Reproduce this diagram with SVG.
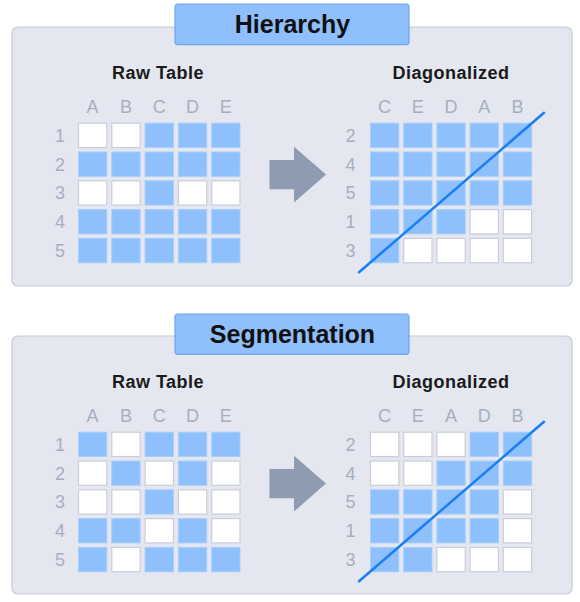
<svg xmlns="http://www.w3.org/2000/svg" width="580" height="602" viewBox="0 0 580 602">
<style>
.panel{fill:#e4e7ef;stroke:#c4cad7;stroke-width:1.2}
.tbox{fill:#8fbffc;stroke:#6ea5ee;stroke-width:1.2}
.ttl{font-family:"Liberation Sans",Arial,sans-serif;font-weight:bold;font-size:25px;fill:#111;text-anchor:middle}
.sub{font-family:"Liberation Sans",Arial,sans-serif;font-weight:bold;font-size:18px;letter-spacing:0.5px;fill:#1a1a1a;text-anchor:middle}
.lbl{font-family:"Liberation Sans",Arial,sans-serif;font-size:18px;fill:#a6afc1;text-anchor:middle}
.b{fill:#8fc0fe;stroke:#a6cdfb;stroke-width:1}
.w{fill:#ffffff;stroke:#c9ced9;stroke-width:1.2}
.arrow{fill:#8e9bb0}
.diag{stroke:#1a7ef5;stroke-width:2.5;stroke-linecap:round;fill:none}
</style>
<defs>
<g id="wc"><rect class="w" x="0.5" y="0.5" width="28.3" height="24.3"/></g>
<g id="bc"><rect class="b" x="0.5" y="0.5" width="28.3" height="24.3"/></g>
</defs>

<g id="hierarchy">
<rect class="panel" x="12" y="27" width="560" height="259" rx="6"/>
<g id="hierarchy-title">
<rect class="tbox" x="175" y="4" width="234" height="40.7" rx="3"/>
<text class="ttl" x="292.5" y="33">Hierarchy</text>
</g>
<g id="hierarchy-raw">
<text class="sub" x="158" y="79">Raw Table</text>
<text class="lbl" x="92.6" y="112.7">A</text><text class="lbl" x="125.9" y="112.7">B</text><text class="lbl" x="159.2" y="112.7">C</text><text class="lbl" x="192.5" y="112.7">D</text><text class="lbl" x="225.8" y="112.7">E</text>
<text class="lbl" x="60" y="141.8">1</text><text class="lbl" x="60" y="170.6">2</text><text class="lbl" x="60" y="199.4">3</text><text class="lbl" x="60" y="228.2">4</text><text class="lbl" x="60" y="257">5</text>
<use href="#wc" x="78" y="122.7"/><use href="#wc" x="111.3" y="122.7"/><use href="#bc" x="144.6" y="122.7"/><use href="#bc" x="177.9" y="122.7"/><use href="#bc" x="211.2" y="122.7"/>
<use href="#bc" x="78" y="151.5"/><use href="#bc" x="111.3" y="151.5"/><use href="#bc" x="144.6" y="151.5"/><use href="#bc" x="177.9" y="151.5"/><use href="#bc" x="211.2" y="151.5"/>
<use href="#wc" x="78" y="180.3"/><use href="#wc" x="111.3" y="180.3"/><use href="#bc" x="144.6" y="180.3"/><use href="#wc" x="177.9" y="180.3"/><use href="#wc" x="211.2" y="180.3"/>
<use href="#bc" x="78" y="209.1"/><use href="#bc" x="111.3" y="209.1"/><use href="#bc" x="144.6" y="209.1"/><use href="#bc" x="177.9" y="209.1"/><use href="#bc" x="211.2" y="209.1"/>
<use href="#bc" x="78" y="237.9"/><use href="#bc" x="111.3" y="237.9"/><use href="#bc" x="144.6" y="237.9"/><use href="#bc" x="177.9" y="237.9"/><use href="#bc" x="211.2" y="237.9"/>
</g>
<g id="hierarchy-diag">
<text class="sub" x="451" y="79">Diagonalized</text>
<text class="lbl" x="384.6" y="112.7">C</text><text class="lbl" x="417.8" y="112.7">E</text><text class="lbl" x="451" y="112.7">D</text><text class="lbl" x="484.2" y="112.7">A</text><text class="lbl" x="517.4" y="112.7">B</text>
<text class="lbl" x="350.5" y="141.8">2</text><text class="lbl" x="350.5" y="170.6">4</text><text class="lbl" x="350.5" y="199.4">5</text><text class="lbl" x="350.5" y="228.2">1</text><text class="lbl" x="350.5" y="257">3</text>
<use href="#bc" x="370" y="122.7"/><use href="#bc" x="403.2" y="122.7"/><use href="#bc" x="436.4" y="122.7"/><use href="#bc" x="469.6" y="122.7"/><use href="#bc" x="502.8" y="122.7"/>
<use href="#bc" x="370" y="151.5"/><use href="#bc" x="403.2" y="151.5"/><use href="#bc" x="436.4" y="151.5"/><use href="#bc" x="469.6" y="151.5"/><use href="#bc" x="502.8" y="151.5"/>
<use href="#bc" x="370" y="180.3"/><use href="#bc" x="403.2" y="180.3"/><use href="#bc" x="436.4" y="180.3"/><use href="#bc" x="469.6" y="180.3"/><use href="#bc" x="502.8" y="180.3"/>
<use href="#bc" x="370" y="209.1"/><use href="#bc" x="403.2" y="209.1"/><use href="#bc" x="436.4" y="209.1"/><use href="#wc" x="469.6" y="209.1"/><use href="#wc" x="502.8" y="209.1"/>
<use href="#bc" x="370" y="237.9"/><use href="#wc" x="403.2" y="237.9"/><use href="#wc" x="436.4" y="237.9"/><use href="#wc" x="469.6" y="237.9"/><use href="#wc" x="502.8" y="237.9"/>
</g>
</g>

<g id="segmentation">
<rect class="panel" x="12" y="336" width="560" height="258" rx="6"/>
<g id="segmentation-title">
<rect class="tbox" x="175" y="314" width="234" height="40.3" rx="3"/>
<text class="ttl" x="292.5" y="342.5">Segmentation</text>
</g>
<g id="segmentation-raw">
<text class="sub" x="158" y="388">Raw Table</text>
<text class="lbl" x="92.6" y="421.7">A</text><text class="lbl" x="125.9" y="421.7">B</text><text class="lbl" x="159.2" y="421.7">C</text><text class="lbl" x="192.5" y="421.7">D</text><text class="lbl" x="225.8" y="421.7">E</text>
<text class="lbl" x="60" y="450.8">1</text><text class="lbl" x="60" y="479.6">2</text><text class="lbl" x="60" y="508.4">3</text><text class="lbl" x="60" y="537.2">4</text><text class="lbl" x="60" y="566">5</text>
<use href="#bc" x="78" y="431.7"/><use href="#wc" x="111.3" y="431.7"/><use href="#bc" x="144.6" y="431.7"/><use href="#bc" x="177.9" y="431.7"/><use href="#bc" x="211.2" y="431.7"/>
<use href="#wc" x="78" y="460.5"/><use href="#bc" x="111.3" y="460.5"/><use href="#wc" x="144.6" y="460.5"/><use href="#bc" x="177.9" y="460.5"/><use href="#wc" x="211.2" y="460.5"/>
<use href="#wc" x="78" y="489.3"/><use href="#wc" x="111.3" y="489.3"/><use href="#bc" x="144.6" y="489.3"/><use href="#wc" x="177.9" y="489.3"/><use href="#wc" x="211.2" y="489.3"/>
<use href="#bc" x="78" y="518.1"/><use href="#bc" x="111.3" y="518.1"/><use href="#wc" x="144.6" y="518.1"/><use href="#bc" x="177.9" y="518.1"/><use href="#wc" x="211.2" y="518.1"/>
<use href="#bc" x="78" y="546.9"/><use href="#wc" x="111.3" y="546.9"/><use href="#bc" x="144.6" y="546.9"/><use href="#bc" x="177.9" y="546.9"/><use href="#bc" x="211.2" y="546.9"/>
</g>
<g id="segmentation-diag">
<text class="sub" x="451" y="388">Diagonalized</text>
<text class="lbl" x="384.6" y="421.7">C</text><text class="lbl" x="417.8" y="421.7">E</text><text class="lbl" x="451" y="421.7">A</text><text class="lbl" x="484.2" y="421.7">D</text><text class="lbl" x="517.4" y="421.7">B</text>
<text class="lbl" x="350.5" y="450.8">2</text><text class="lbl" x="350.5" y="479.6">4</text><text class="lbl" x="350.5" y="508.4">5</text><text class="lbl" x="350.5" y="537.2">1</text><text class="lbl" x="350.5" y="566">3</text>
<use href="#wc" x="370" y="431.7"/><use href="#wc" x="403.2" y="431.7"/><use href="#wc" x="436.4" y="431.7"/><use href="#bc" x="469.6" y="431.7"/><use href="#bc" x="502.8" y="431.7"/>
<use href="#wc" x="370" y="460.5"/><use href="#wc" x="403.2" y="460.5"/><use href="#bc" x="436.4" y="460.5"/><use href="#bc" x="469.6" y="460.5"/><use href="#bc" x="502.8" y="460.5"/>
<use href="#bc" x="370" y="489.3"/><use href="#bc" x="403.2" y="489.3"/><use href="#bc" x="436.4" y="489.3"/><use href="#bc" x="469.6" y="489.3"/><use href="#wc" x="502.8" y="489.3"/>
<use href="#bc" x="370" y="518.1"/><use href="#bc" x="403.2" y="518.1"/><use href="#bc" x="436.4" y="518.1"/><use href="#bc" x="469.6" y="518.1"/><use href="#wc" x="502.8" y="518.1"/>
<use href="#bc" x="370" y="546.9"/><use href="#bc" x="403.2" y="546.9"/><use href="#wc" x="436.4" y="546.9"/><use href="#wc" x="469.6" y="546.9"/><use href="#wc" x="502.8" y="546.9"/>
</g>
</g>

<g id="connectors">
<polygon class="arrow" points="269.5,160 294,160 294,146.7 326,174.5 294,202.5 294,189.3 269.5,189.3"/>
<polygon class="arrow" points="269.5,469 294,469 294,455.7 326,483.5 294,511.5 294,498.3 269.5,498.3"/>
<line class="diag" x1="359" y1="272.3" x2="544" y2="112.7"/>
<line class="diag" x1="359" y1="581.3" x2="544" y2="421.7"/>
</g>
</svg>
